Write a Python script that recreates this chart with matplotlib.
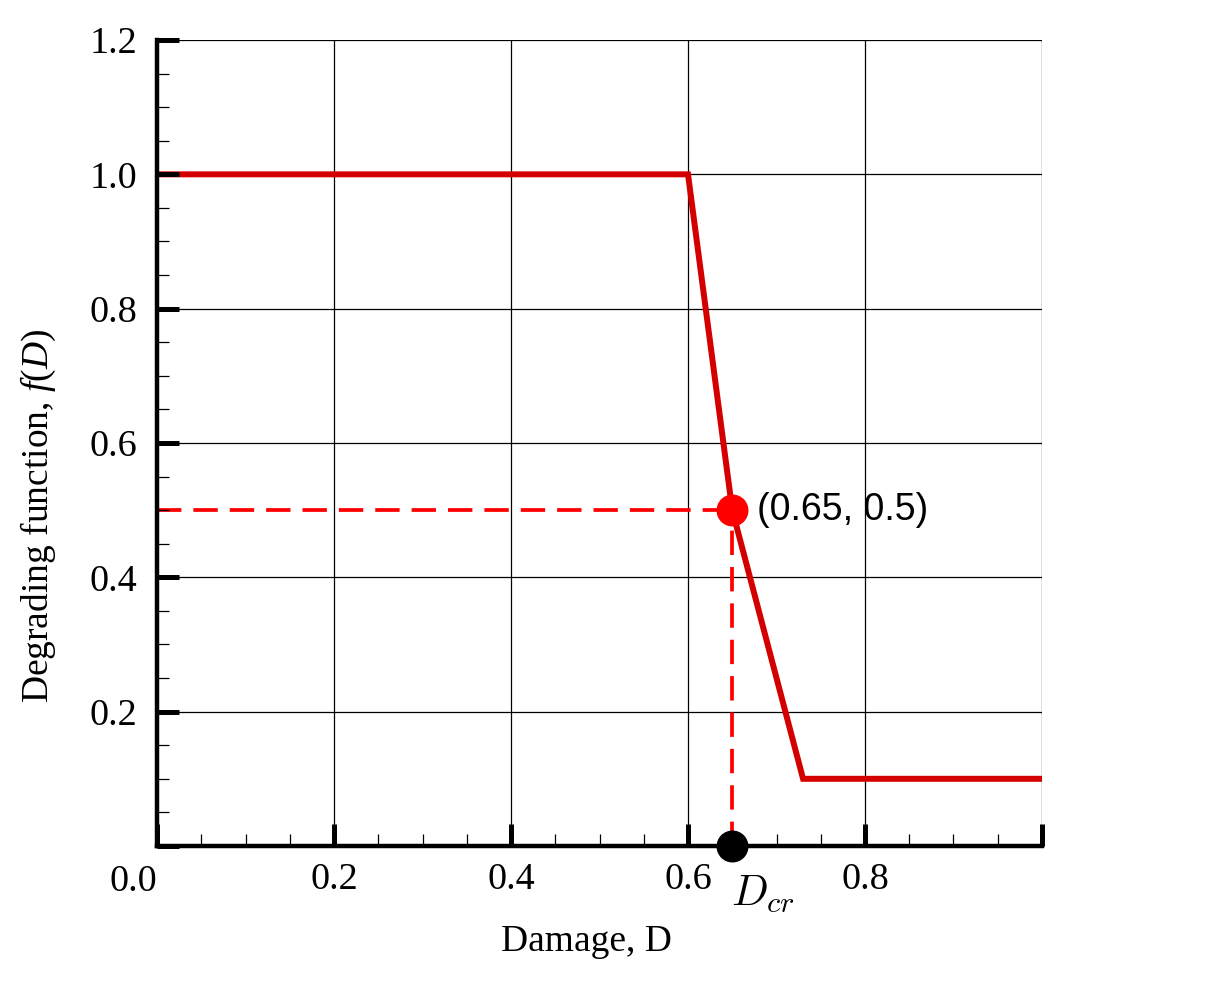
import matplotlib
matplotlib.use("Agg")
from matplotlib import pyplot as plt
import numpy as np

# degrading function f(D), piecewise linear
damage = [0.0, 0.6, 0.65, 0.73, 1.0]
f_d = [1.0, 1.0, 0.5, 0.1, 0.1]

d_cr, f_cr = 0.65, 0.5

x_major = [0.0, 0.2, 0.4, 0.6, 0.8, 1.0]
x_labels = ['', '0.2', '0.4', '0.6', '0.8', '']
y_major = [0.0, 0.2, 0.4, 0.6, 0.8, 1.0, 1.2]
y_labels = ['', '0.2', '0.4', '0.6', '0.8', '1.0', '1.2']

plt.rcParams['font.family'] = ['Liberation Serif', 'DejaVu Serif']
plt.rcParams['mathtext.it'] = 'Liberation Serif:italic'
plt.rcParams['mathtext.rm'] = 'Liberation Serif'

fig = plt.figure(figsize=(12.24, 9.83), dpi=100)
ax = fig.add_axes([0.1283, 0.1394, 0.8513 - 0.1283, 0.9593 - 0.1394])
ax.set_xlim(0, 1.0)
ax.set_ylim(0, 1.2)

# grid drawn by hand so it stays under the curve while ticks stay on top
for xv in x_major:
    ax.axvline(xv, color='black', lw=0.9, zorder=1)
for yv in y_major:
    ax.axhline(yv, color='black', lw=0.9, zorder=1)

ax.plot(damage, f_d, color='#d40000', lw=4.3, zorder=2, solid_joinstyle='miter')
ax.plot([0, d_cr], [f_cr, f_cr], color='#ff0000', lw=2.7, dashes=(6.5, 3.2), zorder=2)
ax.plot([d_cr, d_cr], [0, f_cr], color='#ff0000', lw=2.7, dashes=(6.5, 3.2), zorder=2)
ax.plot(d_cr, f_cr, 'o', color='#ff0000', ms=22, zorder=4, clip_on=False)
ax.plot(d_cr, 0, 'o', color='black', ms=22, zorder=4, clip_on=False)

ax.annotate('(0.65, 0.5)', (d_cr, f_cr), xytext=(18, 0), textcoords='offset points',
            ha='left', va='center', fontsize=27, family=['Liberation Sans'])
ax.annotate(r'$D_{cr}$', (d_cr, 0), xytext=(-1, -20), textcoords='offset points',
            ha='left', va='top', fontsize=31, math_fontfamily='cm')

ax.set_axisbelow(False)
for side in ['top', 'right']:
    ax.spines[side].set_visible(False)
for side in ['left', 'bottom']:
    ax.spines[side].set_linewidth(3.2)

ax.set_xticks(x_major)
ax.set_xticklabels(x_labels)
ax.set_yticks(y_major)
ax.set_yticklabels(y_labels)
ax.set_xticks(np.arange(0, 1.0001, 0.05), minor=True)
ax.set_yticks(np.arange(0, 1.2001, 0.05), minor=True)
ax.tick_params(which='major', direction='in', length=16, width=3.6, labelsize=27.5)
ax.tick_params(axis='x', which='major', pad=12)
ax.tick_params(axis='y', which='major', pad=14)
ax.tick_params(which='minor', direction='in', length=8.5, width=0.9)

ax.text(-0.027, -0.023, '0.0', transform=ax.transAxes, fontsize=27.5, ha='center', va='top')

ax.set_xlabel('Damage, D', fontsize=27, labelpad=10)
ax.xaxis.set_label_coords(0.485, -0.098)
ax.set_ylabel(r'Degrading function, $f$($D$)', fontsize=27, math_fontfamily='custom')
ax.yaxis.set_label_coords(-0.112, 0.41)

fig.savefig('out.png', dpi=100)
